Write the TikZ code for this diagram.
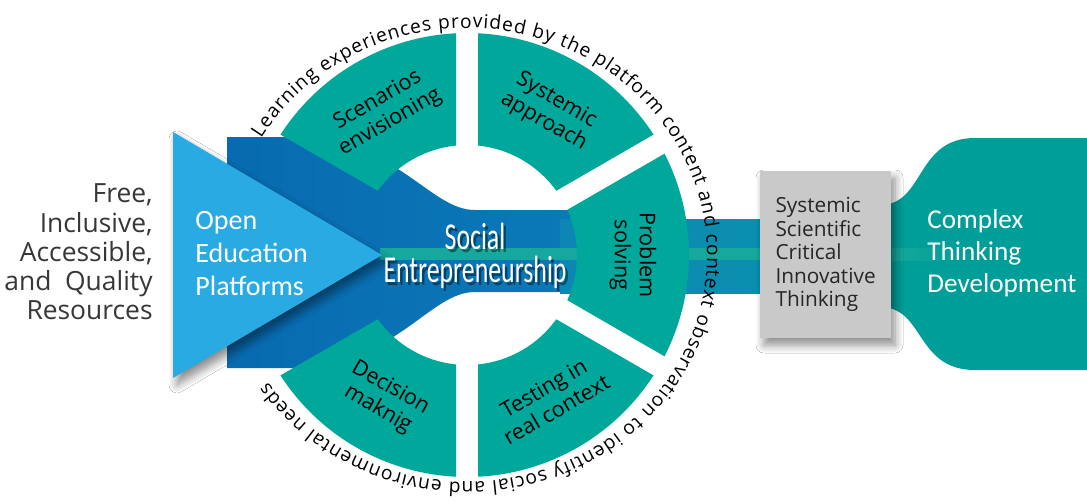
\documentclass[tikz,border=0pt]{standalone}
\usepackage{fontspec}
\setmainfont{Carlito}
\newfontfamily\opensans{Open Sans}
\newfontfamily\narrowfont[FakeStretch=0.68]{Carlito}
\usetikzlibrary{shadows.blur,decorations.text}

\definecolor{RingTeal}{RGB}{0,168,155}
\definecolor{SkyBlue}{RGB}{42,170,226}
\definecolor{DeepBlue}{RGB}{8,106,176}
\definecolor{MidBlue}{RGB}{10,122,184}
\definecolor{BandBlue}{RGB}{12,134,180}
\definecolor{BandTeal}{RGB}{10,150,170}
\definecolor{StripeTeal}{RGB}{22,168,156}
\definecolor{BoxGray}{RGB}{201,201,201}
\definecolor{GoalTeal}{RGB}{0,158,152}
\definecolor{InkGray}{RGB}{55,55,55}

\newcommand{\arcfont}{\opensans\fontsize{9.6}{11}\selectfont}

\begin{document}
\begin{tikzpicture}[x=0.5pt, y=0.5pt,
    seg/.style={fill=RingTeal},
    seglabel/.style={font=\opensans\fontsize{10.8}{12.5}\selectfont, align=center, text=black},
    whitetxt/.style={text=white, align=left, anchor=west, inner sep=0pt},
    skillbox/.style={fill=BoxGray, minimum width=65.5pt, minimum height=83.5pt, text width=50pt,
      align=left, font=\opensans\fontsize{10.4}{11.8}\selectfont, text=black!85},
    dropsh/.style={blur shadow={shadow xshift=2pt, shadow yshift=-3.5pt, shadow blur radius=4pt,
      shadow blur steps=8, shadow opacity=45}}
  ]
  \useasboundingbox[fill=white] (0,0) rectangle (1087,500);

  % blue funnel and the band running to the right
  \shade[left color=DeepBlue, right color=MidBlue]
    (227,363) -- (300,363) .. controls (400,357) and (430,290) .. (475,290)
    -- (585,290) -- (585,208) -- (475,208)
    .. controls (430,208) and (400,140) .. (300,132) -- (227,132) -- cycle;
  \shade[left color=BandBlue, right color=BandTeal] (560,207) rectangle (900,281);
  \fill[StripeTeal] (380,240) rectangle (892,252);

  % arrow head
  \path[dropsh, fill=SkyBlue] (173,368) -- (382,245) -- (173,122) -- cycle;

  % ring of five segments and the text around it
  \begin{scope}[shift={(467,245)}]
    \foreach \a/\b in {150/90, 90/30, 30/-30, -30/-90, -90/-150}
      \fill[seg] (\a-2.84:222) arc[start angle=\a-2.84, end angle=\b+2.84, radius=222]
        -- (\b+5.74:110) arc[start angle=\b+5.74, end angle=\a-5.74, radius=110] -- cycle;

    \node[seglabel, rotate=30]  (scenarios) at (120:166)  {Scenarios\\envisioning};
    \node[seglabel, rotate=-30] (systemic)  at (60:166)   {Systemic\\approach};
    \node[seglabel, rotate=-90] (problem)   at (0:166)    {Problem\\solving};
    \node[seglabel, rotate=30]  (testing)   at (-60:166)  {Testing in\\real context};
    \node[seglabel, rotate=-30] (decision)  at (-120:166) {Decision\\maknig};

    \path[decorate, decoration={text along path, text align={fit to path},
        text={|\arcfont|Learning experiences provided by the platform content and context observation to identify social and environmental needs}}]
      (149:240 and 227) arc[start angle=149, end angle=-146, x radius=240, y radius=227];
  \end{scope}

  % goal shape and the box in front of it
  \fill[GoalTeal] (880,295) .. controls (925,295) and (915,362) .. (975,362) -- (1087,362)
    -- (1087,130) -- (975,130) .. controls (915,130) and (925,193) .. (880,193) -- cycle;
  \shade[left color=StripeTeal, right color=GoalTeal] (892,240) rectangle (960,252);
  \node[skillbox, dropsh] (skills) at (825.5,245.5) {Systemic\\Scientific\\Critical\\Innovative\\Thinking};

  \node[anchor=east, align=right, inner sep=0pt, text=InkGray,
    font=\opensans\fontsize{13.2}{14.6}\selectfont] (resources) at (153,248)
    {Free,\\Inclusive,\\Accessible,\\and~~Quality\\Resources};
  \node[whitetxt, font=\fontsize{14}{16.5}\selectfont] (oep) at (195,246)
    {Open\\Education\\Platforms};
  \node[text=black, opacity=0.45, align=center, font=\narrowfont\fontsize{19}{16.5}\selectfont]
    (se-shadow) at (477.5,241.5) {Social\\Entrepreneurship};
  \node[text=white, align=center, font=\narrowfont\fontsize{19}{16.5}\selectfont]
    (se) at (475,244) {Social\\Entrepreneurship};
  \node[whitetxt, font=\fontsize{13.6}{16}\selectfont] (goal) at (927,247)
    {Complex\\Thinking\\Development};
\end{tikzpicture}
\end{document}
